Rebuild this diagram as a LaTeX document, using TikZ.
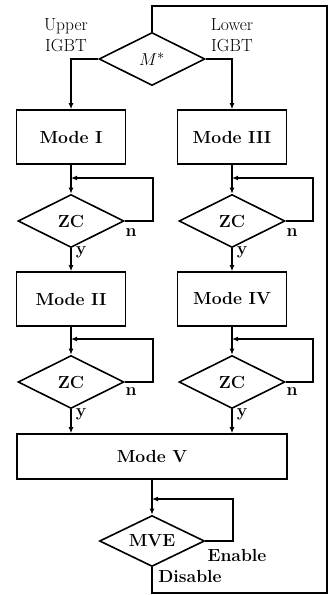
\documentclass[tikz,border=0pt]{standalone}
\usetikzlibrary{shapes.geometric,arrows.meta}
\begin{document}
\begin{tikzpicture}[x=1pt,y=-1pt, line width=1.6pt,
  every node/.style={font=\fontsize{17.5}{21}\selectfont},
  modebox/.style={draw, rectangle, minimum width=109pt, minimum height=54pt, inner sep=0pt, font=\fontsize{17.5}{21}\selectfont\bfseries},
  dec/.style={draw, diamond, aspect=2, minimum width=106pt, minimum height=53pt, inner sep=0pt, font=\fontsize{17.5}{21}\selectfont\bfseries},
  arr/.style={-{Latex[length=6pt,width=5pt]}},
  lbl/.style={inner sep=0pt, font=\fontsize{17.5}{21}\selectfont\bfseries}]
\useasboundingbox (0,0) rectangle (329,595);

\node[dec] (M) at (152,59) {\fontsize{19}{21}\selectfont\mdseries$M^{*}$};
\node[align=center, inner sep=0pt] (up) at (66,35) {Upper\\IGBT};
\node[align=center, inner sep=0pt] (lo) at (232,35) {Lower\\IGBT};

\node[modebox] (m1) at (71,137) {Mode I};
\node[modebox] (m3) at (232,137) {Mode III};
\node[dec] (z1) at (71,221) {ZC};
\node[dec] (z3) at (232,221) {ZC};
\node[modebox] (m2) at (71,299) {Mode II};
\node[modebox] (m4) at (232,299) {Mode IV};
\node[dec] (z2) at (71,382) {ZC};
\node[dec] (z4) at (232,382) {ZC};
\node[modebox, minimum width=270pt, minimum height=45pt] (m5) at (152,456.5) {Mode V};
\node[dec, minimum width=105pt, minimum height=51pt] (mve) at (152,541) {MVE};

\node[lbl] (n1) at (131,233) {n};
\node[lbl] (n3) at (292,233) {n};
\node[lbl] (n2) at (131,392) {n};
\node[lbl] (n4) at (292,392) {n};
\node[lbl] (y1) at (81,252) {y};
\node[lbl] (y3) at (242,252) {y};
\node[lbl] (y2) at (81,414) {y};
\node[lbl] (y4) at (242,414) {y};
\node[lbl] (en) at (237,555) {Enable};
\node[lbl] (dis) at (190,576) {Disable};

\coordinate (f1) at (153,178);
\coordinate (f3) at (313,178);
\coordinate (f2) at (153,339);
\coordinate (f4) at (313,339);
\coordinate (f5) at (233,499);
\coordinate (c1) at (152,6);
\coordinate (c2) at (327,6);
\coordinate (c3) at (327,593);
\coordinate (c4) at (152,593);

\draw[arr] (M.west) -| (m1.north);
\draw[arr] (M.east) -| (m3.north);
\draw[arr] (m1.south) -- (z1.north);
\draw[arr] (m3.south) -- (z3.north);
\draw[arr] (z1.east) -| (f1) -- (f1 -| m1.south);
\draw[arr] (z3.east) -| (f3) -- (f3 -| m3.south);
\draw[arr] (z1.south) -- (m2.north);
\draw[arr] (z3.south) -- (m4.north);
\draw[arr] (m2.south) -- (z2.north);
\draw[arr] (m4.south) -- (z4.north);
\draw[arr] (z2.east) -| (f2) -- (f2 -| m2.south);
\draw[arr] (z4.east) -| (f4) -- (f4 -| m4.south);
\draw[arr] (z2.south) -- (z2.south |- m5.north);
\draw[arr] (z4.south) -- (z4.south |- m5.north);
\draw[arr] (m5.south) -- (mve.north);
\draw[arr] (mve.east) -| (f5) -- (f5 -| mve.north);
\draw (mve.south) -- (c4) -- (c3) -- (c2) -- (c1) -- (M.north);
\end{tikzpicture}
\end{document}
